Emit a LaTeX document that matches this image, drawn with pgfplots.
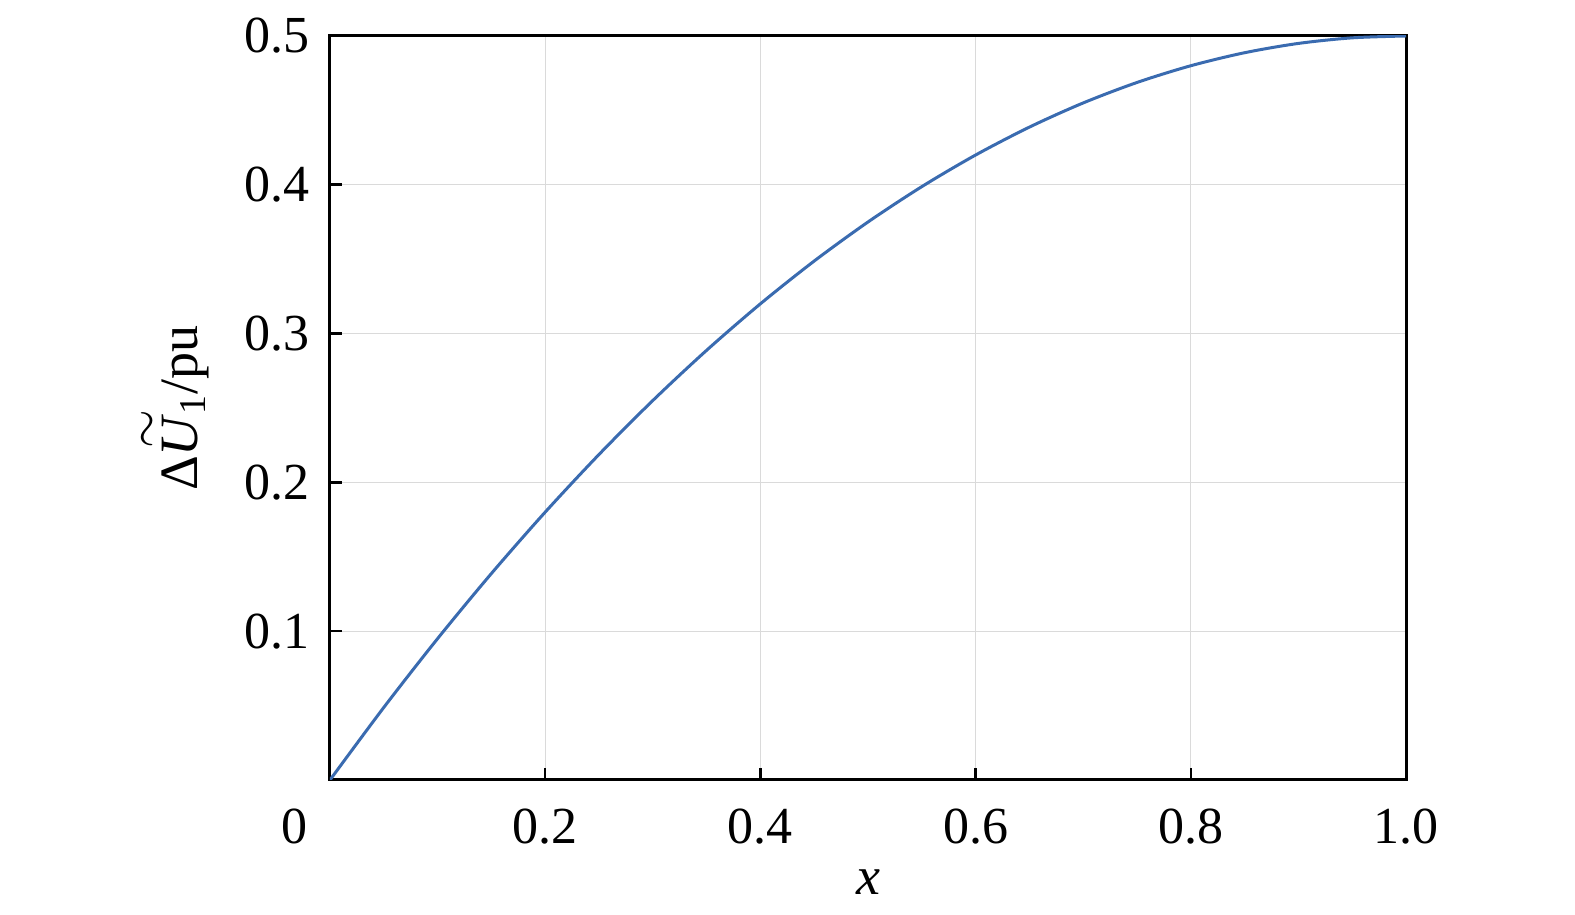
\documentclass[border=0pt]{standalone}
\usepackage{pgfplots}
\pgfplotsset{compat=1.18}
\usepackage{fontspec}
\setmainfont{Liberation Serif}

\definecolor{curveblue}{RGB}{58,107,176}
\definecolor{gridgray}{RGB}{218,218,218}

\newcommand{\tildeU}{\makebox[0pt][l]{\hspace{0.14em}\raisebox{0.7em}{$\sim$}}\textit{U}}

\begin{document}
\begin{tikzpicture}
\begin{axis}[
    name=ax,
    scale only axis,
    width=538pt, height=372pt,
    xmin=0, xmax=1, ymin=0, ymax=0.5,
    xtick={0.2,0.4,0.6,0.8,1.0},
    xticklabels={0.2,0.4,0.6,0.8,1.0},
    ytick={0.1,0.2,0.3,0.4,0.5},
    yticklabels={0.1,0.2,0.3,0.4,0.5},
    extra x ticks={0},
    extra x tick labels={0},
    extra x tick style={grid=none, major tick length=0pt,
        xticklabel style={xshift=-17.5pt}},
    tick align=inside,
    major tick length=6pt,
    xtick pos=bottom, ytick pos=left,
    tick style={black, line width=1.3pt},
    axis line style={black, line width=1.5pt},
    grid=major,
    grid style={gridgray, line width=0.5pt},
    ticklabel style={font=\fontsize{26}{30}\selectfont},
    xticklabel style={yshift=-11pt},
    yticklabel style={xshift=-6.5pt},
    xlabel={\textit{x}},
    ylabel={Δ\tildeU\textsubscript{1}/pu},
    label style={font=\fontsize{27}{30}\selectfont},
    xlabel style={yshift=-6pt},
    ylabel style={yshift=11pt},
]
\addplot[curveblue, line width=1.5pt, smooth] coordinates {
    (0,0) (0.05,0.04875) (0.1,0.095) (0.15,0.13875) (0.2,0.18)
    (0.25,0.21875) (0.3,0.255) (0.35,0.28875) (0.4,0.32)
    (0.45,0.34875) (0.5,0.375) (0.55,0.39875) (0.6,0.42)
    (0.65,0.43875) (0.7,0.455) (0.75,0.46875) (0.8,0.48)
    (0.85,0.48875) (0.9,0.495) (0.95,0.49875) (1,0.5)
};
\end{axis}
\useasboundingbox ([xshift=-165pt,yshift=-67.5pt]ax.south west) rectangle ([xshift=84.5pt,yshift=18pt]ax.north east);
\end{tikzpicture}
\end{document}
